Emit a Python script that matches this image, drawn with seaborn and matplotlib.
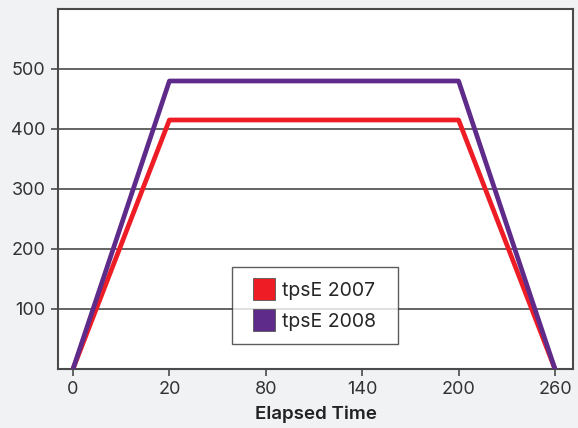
import matplotlib
matplotlib.use("Agg")
import matplotlib.pyplot as plt
import seaborn as sns
import pandas as pd
from matplotlib.patches import Patch, Rectangle
from matplotlib.legend_handler import HandlerPatch

times = ["0", "20", "80", "140", "200", "260"]
tpse_2007 = [0, 415, 415, 415, 415, 0]
tpse_2008 = [0, 480, 480, 480, 480, 0]
series_names = ["tpsE 2007", "tpsE 2008"]
colors = ["#ee1c25", "#5f2b8a"]

df = pd.DataFrame({
    "time": times * 2,
    "value": tpse_2007 + tpse_2008,
    "series": [series_names[0]] * len(times) + [series_names[1]] * len(times),
})

sns.set_theme(style="white")
plt.rcParams["font.family"] = ["Inter", "DejaVu Sans"]

bg = "#f1f2f4"
fig = plt.figure(figsize=(5.78, 4.28), dpi=100, facecolor=bg)
ax = fig.add_axes([0.1003, 0.1379, 0.8910, 0.8411])
ax.set_facecolor("white")

sns.lineplot(data=df, x="time", y="value", hue="series", palette=colors,
             linewidth=3.4, ax=ax, legend=False, sort=False, zorder=3)

ax.set_ylim(0, 600)
ax.set_xlim(-0.156, 5.187)
ax.set_yticks([100, 200, 300, 400, 500])
ax.yaxis.grid(True, color="#4a4a4a", linewidth=1.2)
ax.set_axisbelow(True)

for s in ax.spines.values():
    s.set_color("#4a4a4a")
    s.set_linewidth(1.5)

ax.tick_params(axis="both", which="both", length=5, width=1.2, color="#4a4a4a",
               labelsize=13, labelcolor="#333333", direction="out", left=True, bottom=True,
               pad=4)
ax.set_xlabel("Elapsed Time", fontsize=13.5, fontweight="semibold", color="#222222", labelpad=5)
ax.set_ylabel("")

LEG_FS = 14
SQ = 1.13  # square size in font units


def square_right(legend, orig_handle, xdescent, ydescent, width, height, fontsize):
    sq = SQ * fontsize
    return Rectangle((-xdescent + width - sq, -ydescent + (height - sq) / 2), sq, sq)


handles = [Patch(facecolor=c, edgecolor="#555555", linewidth=0.6) for c in colors]
leg = ax.legend(handles, series_names, loc="lower left",
                bbox_to_anchor=(0.338, 0.069, 0.322, 0.217), mode="expand",
                fontsize=LEG_FS, frameon=True, fancybox=False, handlelength=1.54,
                handleheight=SQ, borderpad=0.68, labelspacing=0.56, handletextpad=0.36,
                borderaxespad=0,
                handler_map={Patch: HandlerPatch(patch_func=square_right)})
leg.get_frame().set_edgecolor("#333333")
leg.get_frame().set_linewidth(1.0)
leg.set_zorder(5)

fig.savefig("out.png", dpi=100, facecolor=bg)
